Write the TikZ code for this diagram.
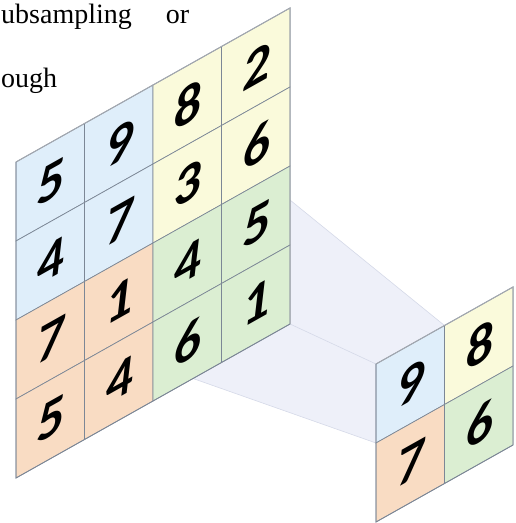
\documentclass[tikz,border=0pt]{standalone}
\usepackage{fontspec}
\setmainfont{Liberation Serif}
\newfontfamily\digitfont{Carlito}
\definecolor{cblue}{HTML}{DFEEFA}
\definecolor{cyellow}{HTML}{FAFADB}
\definecolor{corange}{HTML}{F9DCC3}
\definecolor{cgreen}{HTML}{DBEED2}
\definecolor{gridc}{HTML}{7C8796}
\definecolor{edgec}{HTML}{A3A8B0}
\definecolor{frust}{HTML}{EEF0F9}
\definecolor{frustedge}{HTML}{D5D9E8}
\tikzset{
  cellfill/.style={line width=0.7pt, draw=gridc},
  digit/.style={font=\digitfont\bfseries\itshape\fontsize{54}{54}\selectfont, yslant=0.562, inner sep=0pt, text=black},
  captext/.style={font=\fontsize{28}{28}\selectfont, inner sep=0pt, anchor=base west},
  outerframe/.style={line width=1pt, draw=edgec}
}
\begin{document}
\begin{tikzpicture}[x=1pt,y=-1pt]
\useasboundingbox (0,0) rectangle (516,523);

% caption fragments
\node[captext] (t1) at (1,23) {ubsampling\hspace{34pt}or};
\node[captext] (t2) at (1,87) {ough};

% frustum (projection)
\coordinate (A) at (290,200);
\coordinate (B) at (444.5,325.5);
\coordinate (C) at (376,364);
\coordinate (D) at (376,443);
\coordinate (E) at (193,378.5);
\coordinate (F) at (290,324);
\fill[frust] (A) -- (B) -- (C) -- (D) -- (E) -- (F) -- cycle;
\draw[frustedge, line width=0.6pt] (A) -- (B);
\draw[frustedge, line width=0.6pt] (F) -- (C);
\draw[frustedge, line width=0.6pt] (E) -- (D);

% big grid
\begin{scope}[shift={(16,162)}, x={(68.5pt,38.5pt)}, y={(0pt,-79pt)}]
  \foreach \c/\r/\col/\d in {
    0/0/cblue/5, 1/0/cblue/9, 2/0/cyellow/8, 3/0/cyellow/2,
    0/1/cblue/4, 1/1/cblue/7, 2/1/cyellow/3, 3/1/cyellow/6,
    0/2/corange/7, 1/2/corange/1, 2/2/cgreen/4, 3/2/cgreen/5,
    0/3/corange/5, 1/3/corange/4, 2/3/cgreen/6, 3/3/cgreen/1} {
    \filldraw[cellfill, fill=\col] (\c,\r) -- (\c+1,\r) -- (\c+1,\r+1) -- (\c,\r+1) -- cycle;
    \node[digit] (big-\r-\c) at (\c+0.5,\r+0.5) {\d};
  }
  \draw[outerframe] (0,0) -- (4,0) -- (4,4);
  \draw[line width=0.8pt, draw=gridc] (4,4) -- (0,4) -- (0,0);
\end{scope}

% small grid
\begin{scope}[shift={(376,364)}, x={(68.5pt,38.5pt)}, y={(0pt,-79pt)}]
  \foreach \c/\r/\col/\d in {
    0/0/cblue/9, 1/0/cyellow/8,
    0/1/corange/7, 1/1/cgreen/6} {
    \filldraw[cellfill, fill=\col] (\c,\r) -- (\c+1,\r) -- (\c+1,\r+1) -- (\c,\r+1) -- cycle;
    \node[digit] (small-\r-\c) at (\c+0.5,\r+0.5) {\d};
  }
  \draw[outerframe] (0,0) -- (2,0) -- (2,2);
  \draw[line width=0.8pt, draw=gridc] (2,2) -- (0,2) -- (0,0);
\end{scope}
\end{tikzpicture}
\end{document}
